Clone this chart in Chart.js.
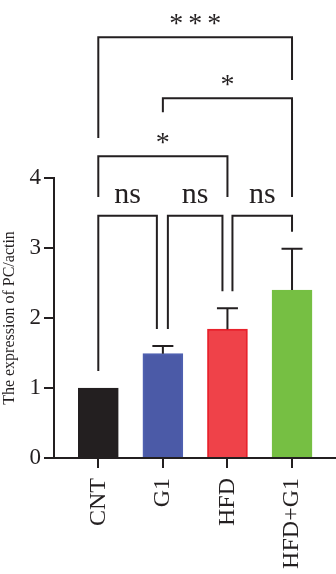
<!DOCTYPE html>
<html>
<head>
<meta charset="utf-8">
<script src="https://cdn.jsdelivr.net/npm/chart.js@4"></script>
<style>
  html, body { margin: 0; padding: 0; background: #fff; }
  #wrap { width: 336px; height: 574px; }
</style>
</head>
<body>
<div id="wrap"><canvas id="chart"></canvas></div>
<script>
"use strict";

const groups = ["CNT", "G1", "HFD", "HFD+G1"];
const meanValues = [1.0, 1.49, 1.84, 2.40];
const errorValues = [0, 0.11, 0.30, 0.59];
const yTicks = [0, 1, 2, 3, 4];
const barColors = ["#231f20", "#4b5aa7", "#ef4249", "#76bf43"];
const barBorders = ["#231f20", "#4f60b0", "#e8222c", "#76bf43"];

// significance comparisons (group indexes) and their marks
const compareFrom = [0, 1, 2, 0, 1, 0];
const compareTo = [1, 2, 3, 2, 3, 3];
const compareMarks = ["ns", "ns", "ns", "*", "*", "***"];

const ink = "#231f20";
const serif = '"Liberation Serif", "DejaVu Serif", serif';

// bracket layout in value units (null leg end = just above bar / error cap)
const bracketLayout = [
    { top: 3.46, leftEnd: null, rightEnd: null, shift: [0, -6] },
    { top: 3.46, leftEnd: null, rightEnd: null, shift: [5, -5] },
    { top: 3.46, leftEnd: null, rightEnd: null, shift: [5, 0] },
    { top: 4.31, leftEnd: 3.73, rightEnd: 3.73, shift: [0, 0] },
    { top: 5.14, leftEnd: 4.94, rightEnd: 3.73, shift: [0, 0] },
    { top: 6.01, leftEnd: 4.57, rightEnd: 5.40, shift: [0, 0] }
];

const annotations = {
    id: "annotations",
    afterDatasetsDraw(chart) {
        const ctx = chart.ctx;
        const xs = chart.scales.x;
        const ys = chart.scales.y;
        ctx.save();
        ctx.strokeStyle = ink;
        ctx.fillStyle = ink;
        ctx.lineWidth = 2;

        // error bars (upper half only)
        meanValues.forEach((m, i) => {
            if (!errorValues[i]) return;
            const x = xs.getPixelForValue(i);
            const y0 = ys.getPixelForValue(m);
            const y1 = ys.getPixelForValue(m + errorValues[i]);
            ctx.beginPath();
            ctx.moveTo(x, y0);
            ctx.lineTo(x, y1);
            ctx.moveTo(x - 10.5, y1);
            ctx.lineTo(x + 10.5, y1);
            ctx.stroke();
        });

        // brackets
        const legEnd = (idx, val) => {
            if (val !== null) return ys.getPixelForValue(val);
            return ys.getPixelForValue(meanValues[idx] + errorValues[idx]) - 17;
        };
        compareFrom.forEach((a, k) => {
            const b = compareTo[k];
            const lay = bracketLayout[k];
            const xa = xs.getPixelForValue(a) + lay.shift[0];
            const xb = xs.getPixelForValue(b) + lay.shift[1];
            const yt = ys.getPixelForValue(lay.top);
            ctx.beginPath();
            ctx.moveTo(xa, legEnd(a, lay.leftEnd));
            ctx.lineTo(xa, yt);
            ctx.lineTo(xb, yt);
            ctx.lineTo(xb, legEnd(b, lay.rightEnd));
            ctx.stroke();

            const mid = (xa + xb) / 2;
            ctx.textAlign = "center";
            ctx.textBaseline = "alphabetic";
            const mark = compareMarks[k];
            if (mark === "ns") {
                ctx.font = "30px " + serif;
                ctx.fillText(mark, mid, yt - 13);
            } else {
                ctx.font = "28px " + serif;
                const n = mark.length;
                for (let s = 0; s < n; s++) {
                    ctx.fillText("*", mid + (s - (n - 1) / 2) * 19, yt - 5);
                }
            }
        });
        ctx.restore();
    }
};

new Chart(document.getElementById("chart"), {
    type: "bar",
    data: {
        datasets: [{
            data: meanValues.map((v, i) => ({ x: i, y: v })),
            backgroundColor: barColors,
            borderColor: barBorders,
            borderWidth: 2,
            borderSkipped: "start",
            barThickness: 40
        }]
    },
    options: {
        responsive: true,
        maintainAspectRatio: false,
        animation: false,
        layout: { padding: { top: 178, right: 0, bottom: 0, left: 0 } },
        plugins: {
            legend: { display: false },
            tooltip: { enabled: false }
        },
        scales: {
            x: {
                type: "linear",
                offset: false,
                min: -0.686,
                max: 3.681,
                afterFit: (scale) => { scale.height = 116; },
                afterBuildTicks: (scale) => {
                    scale.ticks = groups.map((g, i) => ({ value: i }));
                },
                ticks: {
                    autoSkip: false,
                    minRotation: 90,
                    maxRotation: 90,
                    padding: 10,
                    color: ink,
                    font: { family: serif, size: 24 },
                    callback: (v) => groups[v]
                },
                grid: {
                    offset: false,
                    drawOnChartArea: false,
                    drawTicks: true,
                    tickLength: 10,
                    color: ink,
                    lineWidth: 2
                },
                border: { display: true, color: ink, width: 2 }
            },
            y: {
                min: 0,
                max: 4,
                afterFit: (scale) => { scale.width = 54; },
                afterBuildTicks: (scale) => {
                    scale.ticks = yTicks.map((t) => ({ value: t }));
                },
                ticks: {
                    padding: 3,
                    color: ink,
                    font: { family: serif, size: 23 }
                },
                grid: {
                    drawOnChartArea: false,
                    drawTicks: true,
                    tickLength: 10,
                    color: ink,
                    lineWidth: 2
                },
                border: { display: true, color: ink, width: 2 },
                title: {
                    display: true,
                    text: "The expression of PC/actin",
                    color: ink,
                    padding: 0,
                    font: { family: serif, size: 16 }
                }
            }
        }
    },
    plugins: [annotations]
});
</script>
</body>
</html>
